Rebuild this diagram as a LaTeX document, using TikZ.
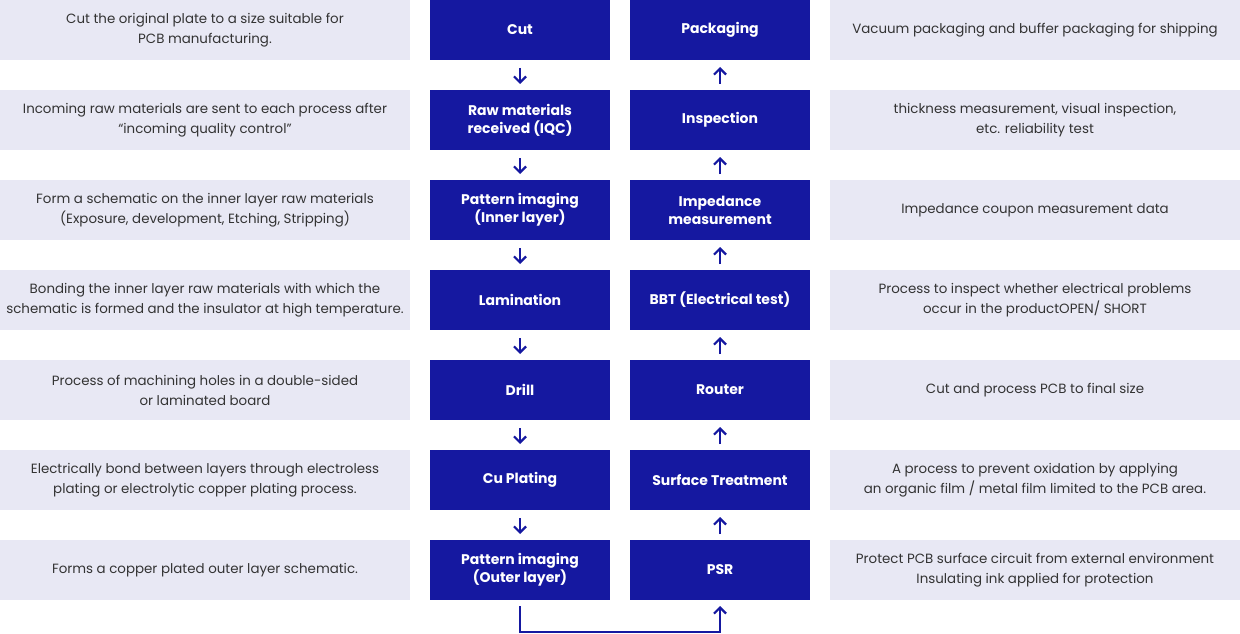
\documentclass[tikz,border=0pt]{standalone}
\usepackage{fontspec}
\setmainfont{Poppins}
\usetikzlibrary{positioning,arrows.meta}
\definecolor{stepblue}{RGB}{21,24,160}
\definecolor{descgray}{RGB}{232,232,244}

\begin{document}
\begin{tikzpicture}[
    font=\fontsize{13.4}{20}\selectfont,
    stepbox/.style={fill=stepblue,text=white,align=center,inner sep=0pt,outer sep=0pt,
                    font=\bfseries\fontsize{14}{18}\selectfont,
                    minimum width=180pt,minimum height=60pt},
    desc/.style={fill=descgray,text=black!80,align=center,inner sep=0pt,outer sep=0pt,
                 minimum width=410pt,minimum height=60pt},
    flow/.style={-{Straight Barb[length=6pt,width=12pt]},line width=2.2pt,draw=stepblue}
]
  \useasboundingbox (0,0) rectangle (1240pt,-634pt);

  % process steps, left column goes down
  \node[stepbox] (cut) at (520pt,-30pt) {Cut};
  \node[stepbox,below=30pt of cut] (raw) {Raw materials\\received (IQC)};
  \node[stepbox,below=30pt of raw] (inner) {Pattern imaging\\(Inner layer)};
  \node[stepbox,below=30pt of inner] (lam) {Lamination};
  \node[stepbox,below=30pt of lam] (drill) {Drill};
  \node[stepbox,below=30pt of drill] (plating) {Cu Plating};
  \node[stepbox,below=30pt of plating] (outer) {Pattern imaging\\(Outer layer)};

  % right column goes up
  \node[stepbox,right=20pt of cut] (pack) {Packaging};
  \node[stepbox,right=20pt of raw] (insp) {Inspection};
  \node[stepbox,right=20pt of inner] (imp) {Impedance\\measurement};
  \node[stepbox,right=20pt of lam] (bbt) {BBT (Electrical test)};
  \node[stepbox,right=20pt of drill] (router) {Router};
  \node[stepbox,right=20pt of plating] (surf) {Surface Treatment};
  \node[stepbox,right=20pt of outer] (psr) {PSR};

  % descriptions
  \node[desc,left=20pt of cut] (d-cut) {Cut the original plate to a size suitable for\\PCB manufacturing.};
  \node[desc,left=20pt of raw] (d-raw) {Incoming raw materials are sent to each process after\\``incoming quality control''};
  \node[desc,left=20pt of inner] (d-inner) {Form a schematic on the inner layer raw materials\\(Exposure, development, Etching, Stripping)};
  \node[desc,left=20pt of lam] (d-lam) {Bonding the inner layer raw materials with which the\\schematic is formed and the insulator at high temperature.};
  \node[desc,left=20pt of drill] (d-drill) {Process of machining holes in a double-sided\\or laminated board};
  \node[desc,left=20pt of plating] (d-plating) {Electrically bond between layers through electroless\\plating or electrolytic copper plating process.};
  \node[desc,left=20pt of outer] (d-outer) {Forms a copper plated outer layer schematic.};

  \node[desc,right=20pt of pack] (d-pack) {Vacuum packaging and buffer packaging for shipping};
  \node[desc,right=20pt of insp] (d-insp) {thickness measurement, visual inspection,\\etc. reliability test};
  \node[desc,right=20pt of imp] (d-imp) {Impedance coupon measurement data};
  \node[desc,right=20pt of bbt] (d-bbt) {Process to inspect whether electrical problems\\occur in the productOPEN/ SHORT};
  \node[desc,right=20pt of router] (d-router) {Cut and process PCB to final size};
  \node[desc,right=20pt of surf] (d-surf) {A process to prevent oxidation by applying\\an organic film / metal film limited to the PCB area.};
  \node[desc,right=20pt of psr] (d-psr) {Protect PCB surface circuit from external environment\\Insulating ink applied for protection};

  % arrows
  \foreach \a/\b in {cut/raw,raw/inner,inner/lam,lam/drill,drill/plating,plating/outer}
    \draw[flow] ([yshift=-8pt]\a.south) -- ([yshift=6pt]\b.north);
  \foreach \a/\b in {psr/surf,surf/router,router/bbt,bbt/imp,imp/insp,insp/pack}
    \draw[flow] ([yshift=6pt]\a.north) -- ([yshift=-7pt]\b.south);
  \draw[flow] ([yshift=-6pt]outer.south) -- ++(0,-26pt) -| ([yshift=-6pt]psr.south);
\end{tikzpicture}
\end{document}
